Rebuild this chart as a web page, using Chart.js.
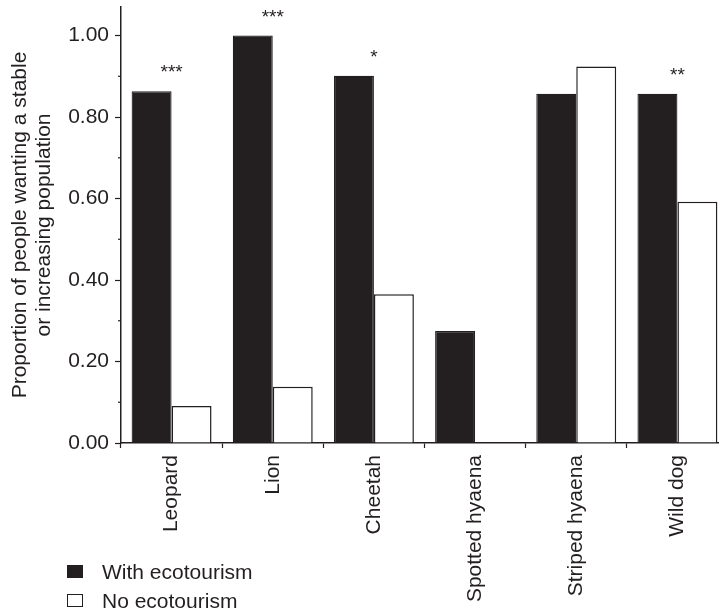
<!DOCTYPE html>
<html>
<head>
<meta charset="utf-8">
<script src="https://cdn.jsdelivr.net/npm/chart.js@4.4.1/dist/chart.umd.min.js"></script>
<style>
  html, body { margin: 0; padding: 0; background: #fff; overflow: hidden; }
  #wrap { position: relative; width: 728px; height: 612px; }
  #legend { position: absolute; left: 67px; top: 557px; font: 21px "Liberation Sans", Arial, sans-serif; color: #231f20; }
  .item { display: flex; align-items: center; height: 29px; }
  .box { width: 16px; height: 13px; box-sizing: border-box; margin-right: 19px; border: 1px solid #231f20; }
</style>
</head>
<body>
<div id="wrap">
  <canvas id="chart" width="728" height="612"></canvas>
  <div id="legend"></div>
</div>
<script>
// data
const animals = ['Leopard', 'Lion', 'Cheetah', 'Spotted hyaena', 'Striped hyaena', 'Wild dog'];
const withEco = [0.863, 1.00, 0.901, 0.275, 0.857, 0.857];
const noEco = [0.091, 0.138, 0.365, 0, 0.924, 0.592];
const significance = ['***', '***', '*', '', '', '**'];
const yTicks = [0, 0.2, 0.4, 0.6, 0.8, 1.0];
const yMinorTicks = [0.1, 0.3, 0.5, 0.7, 0.9];

const ink = '#231f20';
const font = 'Liberation Sans, Arial, sans-serif';

// stars above each pair + the small minor ticks on the y axis
const extras = {
  id: 'extras',
  afterDraw(chart) {
    const ctx = chart.ctx;
    const x = chart.scales.x, y = chart.scales.y;
    ctx.save();
    ctx.strokeStyle = ink;
    ctx.lineWidth = 1.2;
    yMinorTicks.forEach(v => {
      const py = y.getPixelForValue(v);
      ctx.beginPath();
      ctx.moveTo(x.left - 3, py);
      ctx.lineTo(x.left, py);
      ctx.stroke();
    });
    ctx.fillStyle = ink;
    ctx.font = '19px ' + font;
    ctx.textAlign = 'center';
    ctx.textBaseline = 'alphabetic';
    significance.forEach((s, i) => {
      if (!s) return;
      const top = Math.max(withEco[i], noEco[i]);
      ctx.fillText(s, x.getPixelForValue(i), y.getPixelForValue(top) - 13);
    });
    ctx.restore();
  }
};

const chart = new Chart(document.getElementById('chart'), {
  type: 'bar',
  data: {
    labels: animals,
    datasets: [{
      label: 'With ecotourism',
      data: withEco,
      backgroundColor: ink,
      borderColor: ink,
      borderWidth: 1.2
    }, {
      label: 'No ecotourism',
      data: noEco,
      backgroundColor: '#fff',
      borderColor: ink,
      borderWidth: 1.5
    }]
  },
  options: {
    responsive: false,
    animation: false,
    layout: { padding: { top: 7, left: 0, right: 0, bottom: 0 } },
    datasets: { bar: { categoryPercentage: 0.79, barPercentage: 1.0 } },
    plugins: { legend: { display: false }, tooltip: { enabled: false } },
    scales: {
      x: {
        offset: true,
        grid: { offset: true, drawOnChartArea: false, drawTicks: true, tickLength: 5, color: ink, tickWidth: 1.2 },
        border: { display: true, color: ink, width: 1.5 },
        ticks: { color: ink, font: { family: font, size: 21 }, maxRotation: 90, minRotation: 90, padding: 7, autoSkip: false },
        afterFit(scale) { scale.height = 169; scale.paddingLeft = 0; scale.paddingRight = 0; }
      },
      y: {
        min: 0,
        max: 1.07,
        afterBuildTicks(scale) { scale.ticks = yTicks.map(v => ({ value: v })); },
        grid: { drawOnChartArea: false, drawTicks: true, tickLength: 6, color: ink, tickWidth: 1.2 },
        border: { display: true, color: ink, width: 1.5 },
        ticks: { color: ink, font: { family: font, size: 21 }, padding: 6, callback: v => v.toFixed(2) },
        title: {
          display: true,
          text: ['Proportion of people wanting a stable', 'or increasing population'],
          color: ink,
          font: { family: font, size: 21, lineHeight: 1.15 },
          padding: { top: 8, bottom: 0 }
        },
        afterFit(scale) { scale.width = 121; scale.paddingTop = 0; scale.paddingBottom = 0; }
      }
    }
  },
  plugins: [extras]
});

// html legend built from the datasets
const legend = document.getElementById('legend');
chart.data.datasets.forEach(ds => {
  const item = document.createElement('div');
  item.className = 'item';
  const box = document.createElement('span');
  box.className = 'box';
  box.style.background = ds.backgroundColor;
  const label = document.createElement('span');
  label.textContent = ds.label;
  item.appendChild(box);
  item.appendChild(label);
  legend.appendChild(item);
});
</script>
</body>
</html>
